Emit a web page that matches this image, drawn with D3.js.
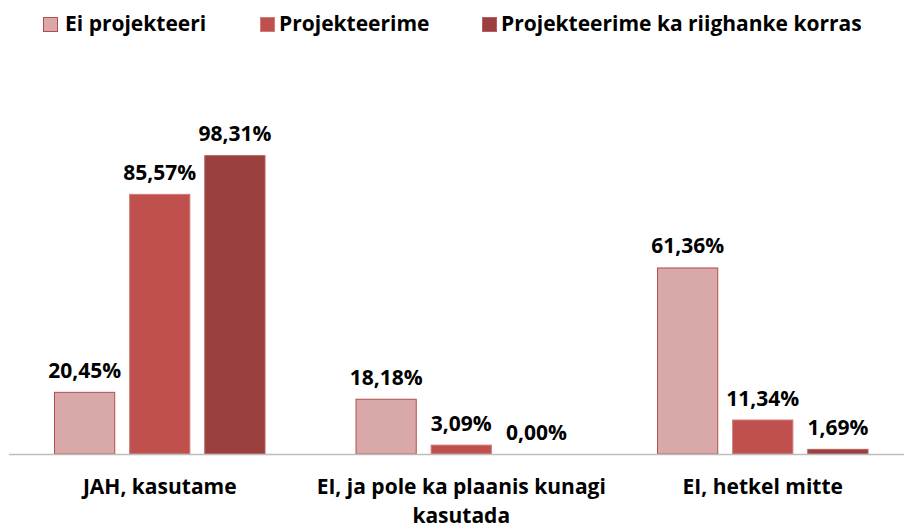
<!DOCTYPE html>
<meta charset="utf-8">
<style>
body { margin: 0; background: #fff; }
svg { display: block; font-family: "Open Sans", "Noto Sans", sans-serif; font-weight: bold; }
.lbl { font-size: 21px; fill: #000; }
</style>
<body>
<script src="https://cdn.jsdelivr.net/npm/d3@7"></script>
<script>
var width = 904, height = 527;

// data
var categories = ["JAH, kasutame", "EI, ja pole ka plaanis kunagi kasutada", "EI, hetkel mitte"];
var seriesNames = ["Ei projekteeri", "Projekteerime", "Projekteerime ka riighanke korras"];
var eiProjekteeri = [20.45, 18.18, 61.36];
var projekteerime = [85.57, 3.09, 11.34];
var riighanke = [98.31, 0.00, 1.69];
var seriesValues = [eiProjekteeri, projekteerime, riighanke];

var fills = ["#D9A9A9", "#C0504D", "#9C403F"];
var strokes = ["#B04E4C", "#CF7B78", "#B3605E"];

var svg = d3.select("body").append("svg")
    .attr("width", width)
    .attr("height", height);

var baseY = 454;

var x0 = d3.scaleBand()
    .domain(categories)
    .range([9, 913.5]);

var x1 = d3.scaleBand()
    .domain(seriesNames)
    .range([45, x0.bandwidth() - 45])
    .paddingInner(0.185);

var y = d3.scaleLinear()
    .domain([0, 100])
    .range([baseY, 150]);

// table for drawing
var rows = [];
categories.forEach(function(c, i) {
  seriesNames.forEach(function(s, j) {
    rows.push({cat: c, ser: s, si: j, value: seriesValues[j][i]});
  });
});

var groups = svg.selectAll(".grp")
  .data(categories)
  .enter().append("g")
    .attr("class", "grp")
    .attr("transform", function(d) { return "translate(" + x0(d) + ",0)"; });

groups.selectAll("rect")
  .data(function(c) { return rows.filter(function(r) { return r.cat === c; }); })
  .enter().append("rect")
    .filter(function(d) { return d.value > 0; })
    .attr("x", function(d) { return x1(d.ser) + 0.5; })
    .attr("y", function(d) { return y(d.value) + 0.5; })
    .attr("width", x1.bandwidth() - 1)
    .attr("height", function(d) { return baseY - y(d.value) - 0.5; })
    .style("fill", function(d) { return fills[d.si]; })
    .style("stroke", function(d) { return strokes[d.si]; })
    .style("stroke-width", 1);

groups.selectAll("text.val")
  .data(function(c) { return rows.filter(function(r) { return r.cat === c; }); })
  .enter().append("text")
    .attr("class", "val lbl")
    .attr("x", function(d) { return x1(d.ser) + x1.bandwidth() / 2; })
    .attr("y", function(d) { return y(d.value) - 14; })
    .attr("text-anchor", "middle")
    .text(function(d) { return d.value.toFixed(2).replace(".", ",") + "%"; });

// axis line
svg.append("line")
    .attr("x1", x0.range()[0])
    .attr("x2", x0.range()[1])
    .attr("y1", baseY + 0.5)
    .attr("y2", baseY + 0.5)
    .style("stroke", "#BDBDBD")
    .style("stroke-width", 1.5);

// category labels, wrapped
var catText = svg.selectAll(".cat")
  .data(categories)
  .enter().append("text")
    .attr("class", "cat lbl")
    .attr("text-anchor", "middle")
    .attr("x", function(d) { return x0(d) + x0.bandwidth() / 2; })
    .attr("y", 494);

catText.each(function(d) {
  var t = d3.select(this), words = d.split(" "), line = [];
  var cx = x0(d) + x0.bandwidth() / 2;
  var ts = t.append("tspan").attr("x", cx).attr("dy", 0);
  words.forEach(function(w) {
    line.push(w);
    ts.text(line.join(" "));
    if (ts.node().getComputedTextLength() > 330 && line.length > 1) {
      line.pop();
      ts.text(line.join(" "));
      line = [w];
      ts = t.append("tspan").attr("x", cx).attr("dy", 29).text(w);
    }
  });
});

// legend
var legendX = [43, 260, 482];
var legend = svg.selectAll(".leg")
  .data(seriesNames)
  .enter().append("g")
    .attr("class", "leg")
    .attr("transform", function(d, i) { return "translate(" + legendX[i] + ",0)"; });

legend.append("rect")
    .attr("x", 0.5)
    .attr("y", 17.5)
    .attr("width", 14)
    .attr("height", 14)
    .style("fill", function(d, i) { return fills[i]; })
    .style("stroke", function(d, i) { return strokes[i]; });

legend.append("text")
    .attr("class", "lbl")
    .attr("x", function(d, i) { return i === 0 ? 22 : 19; })
    .attr("y", 31)
    .text(function(d) { return d; });
</script>
</body>
